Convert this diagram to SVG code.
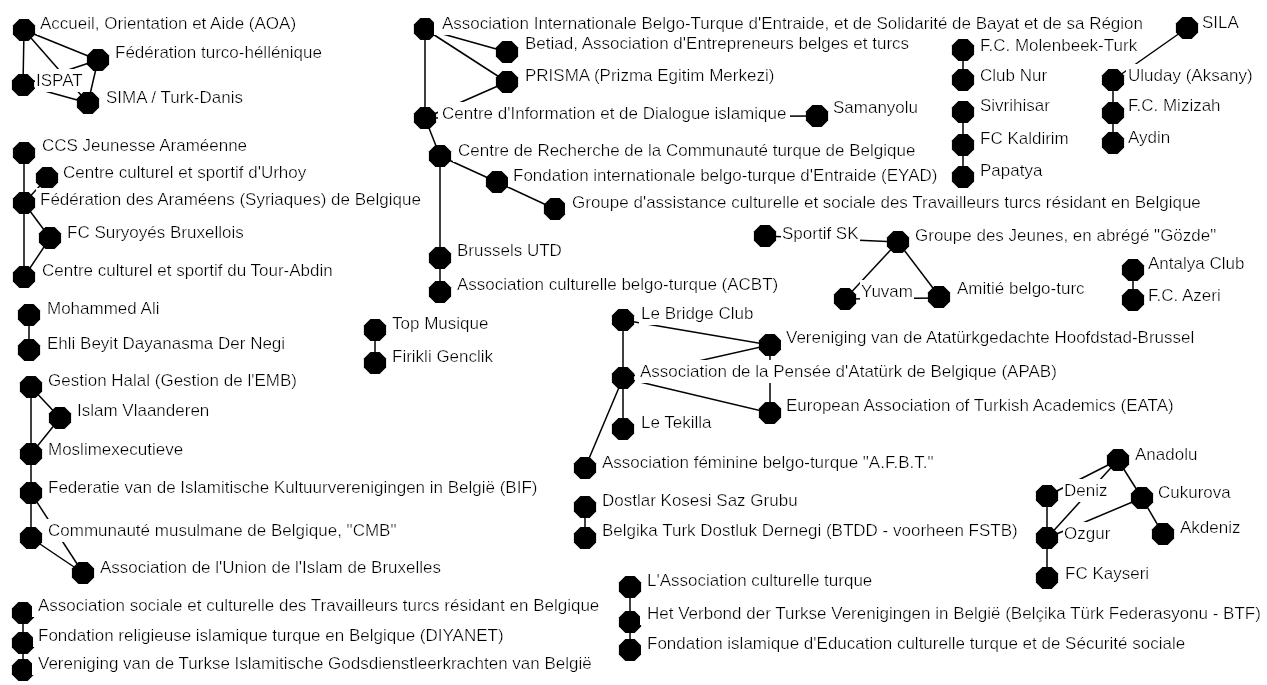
<svg xmlns="http://www.w3.org/2000/svg" xmlns:xlink="http://www.w3.org/1999/xlink" width="1267" height="685" viewBox="0 0 1267 685">
<style>
.lbl{font-family:"Liberation Sans",Arial,sans-serif;font-size:17px;fill:#000;filter:url(#bg)}
#edges line{stroke:#000;stroke-width:1.5}
.nd{fill:#000}
</style>
<defs>
<filter id="bg" x="-0.01" y="-0.06" width="1.02" height="1.12"><feFlood flood-color="#fff"/><feComposite in="SourceGraphic" operator="over"/></filter>
<polygon id="oct" points="-4.6,-11.1 4.6,-11.1 11.1,-4.6 11.1,4.6 4.6,11.1 -4.6,11.1 -11.1,4.6 -11.1,-4.6"/>
</defs>
<rect width="1267" height="685" fill="#fff"/>
<g id="edges">
<line x1="24" y1="30" x2="23" y2="85"/>
<line x1="24" y1="30" x2="98" y2="60"/>
<line x1="24" y1="30" x2="88" y2="103"/>
<line x1="23" y1="85" x2="88" y2="103"/>
<line x1="23" y1="85" x2="98" y2="60"/>
<line x1="98" y1="60" x2="88" y2="103"/>
<line x1="24" y1="153" x2="24" y2="203"/>
<line x1="47" y1="178" x2="24" y2="203"/>
<line x1="24" y1="203" x2="50" y2="238"/>
<line x1="50" y1="238" x2="24" y2="277"/>
<line x1="24" y1="203" x2="24" y2="277"/>
<line x1="29" y1="315" x2="29" y2="350"/>
<line x1="31" y1="387" x2="31" y2="454"/>
<line x1="31" y1="387" x2="60" y2="418"/>
<line x1="60" y1="418" x2="31" y2="454"/>
<line x1="31" y1="454" x2="31" y2="493"/>
<line x1="31" y1="493" x2="31" y2="538"/>
<line x1="31" y1="493" x2="83" y2="573"/>
<line x1="31" y1="538" x2="83" y2="573"/>
<line x1="23" y1="613" x2="23" y2="643"/>
<line x1="23" y1="643" x2="23" y2="670"/>
<line x1="425" y1="29" x2="507" y2="52"/>
<line x1="425" y1="29" x2="507" y2="82"/>
<line x1="425" y1="29" x2="425" y2="118"/>
<line x1="507" y1="82" x2="425" y2="118"/>
<line x1="425" y1="118" x2="817" y2="116"/>
<line x1="425" y1="118" x2="440" y2="156"/>
<line x1="440" y1="156" x2="497" y2="182"/>
<line x1="497" y1="182" x2="555" y2="209"/>
<line x1="440" y1="156" x2="440" y2="258"/>
<line x1="440" y1="258" x2="440" y2="292"/>
<line x1="375" y1="330" x2="375" y2="363"/>
<line x1="623" y1="320" x2="770" y2="345"/>
<line x1="623" y1="320" x2="623" y2="378"/>
<line x1="623" y1="378" x2="770" y2="345"/>
<line x1="623" y1="378" x2="770" y2="413"/>
<line x1="623" y1="378" x2="623" y2="429"/>
<line x1="623" y1="378" x2="585" y2="468"/>
<line x1="770" y1="345" x2="770" y2="413"/>
<line x1="585" y1="507" x2="585" y2="538"/>
<line x1="630" y1="587" x2="630" y2="622"/>
<line x1="630" y1="622" x2="630" y2="650"/>
<line x1="963" y1="50" x2="963" y2="80"/>
<line x1="963" y1="112" x2="963" y2="145"/>
<line x1="963" y1="145" x2="963" y2="177"/>
<line x1="1187" y1="28" x2="1113" y2="80"/>
<line x1="1113" y1="80" x2="1113" y2="113"/>
<line x1="1113" y1="113" x2="1113" y2="143"/>
<line x1="765" y1="236" x2="898" y2="242"/>
<line x1="898" y1="242" x2="845" y2="299"/>
<line x1="898" y1="242" x2="939" y2="296"/>
<line x1="845" y1="299" x2="939" y2="298"/>
<line x1="1133" y1="270" x2="1133" y2="300"/>
<line x1="1118" y1="460" x2="1047" y2="496"/>
<line x1="1118" y1="460" x2="1047" y2="538"/>
<line x1="1118" y1="460" x2="1142" y2="498"/>
<line x1="1142" y1="498" x2="1163" y2="534"/>
<line x1="1142" y1="498" x2="1047" y2="538"/>
<line x1="1047" y1="496" x2="1047" y2="538"/>
<line x1="1047" y1="538" x2="1047" y2="578"/>
</g>
<g id="n-aoa"><use href="#oct" class="nd" x="24" y="30"/><text class="lbl" x="40" y="29">Accueil, Orientation et Aide (AOA)</text></g>
<g id="n-fth"><use href="#oct" class="nd" x="98" y="60"/><text class="lbl" x="115" y="58">Fédération turco-héllénique</text></g>
<g id="n-ispat"><use href="#oct" class="nd" x="23" y="85"/><text class="lbl" x="36" y="86">ISPAT</text></g>
<g id="n-sima"><use href="#oct" class="nd" x="88" y="103"/><text class="lbl" x="106" y="103">SIMA / Turk-Danis</text></g>
<g id="n-ccs"><use href="#oct" class="nd" x="24" y="153"/><text class="lbl" x="42" y="151">CCS Jeunesse Araméenne</text></g>
<g id="n-urhoy"><use href="#oct" class="nd" x="47" y="178"/><text class="lbl" x="63" y="178">Centre culturel et sportif d'Urhoy</text></g>
<g id="n-fedar"><use href="#oct" class="nd" x="24" y="203"/><text class="lbl" x="40" y="205">Fédération des Araméens (Syriaques) de Belgique</text></g>
<g id="n-suryo"><use href="#oct" class="nd" x="50" y="238"/><text class="lbl" x="67" y="238">FC Suryoyés Bruxellois</text></g>
<g id="n-tour"><use href="#oct" class="nd" x="24" y="277"/><text class="lbl" x="42" y="276">Centre culturel et sportif du Tour-Abdin</text></g>
<g id="n-mali"><use href="#oct" class="nd" x="29" y="315"/><text class="lbl" x="47" y="314">Mohammed Ali</text></g>
<g id="n-ehli"><use href="#oct" class="nd" x="29" y="350"/><text class="lbl" x="47" y="349">Ehli Beyit Dayanasma Der Negi</text></g>
<g id="n-halal"><use href="#oct" class="nd" x="31" y="387"/><text class="lbl" x="48" y="386">Gestion Halal (Gestion de l'EMB)</text></g>
<g id="n-vlaand"><use href="#oct" class="nd" x="60" y="418"/><text class="lbl" x="77" y="416">Islam Vlaanderen</text></g>
<g id="n-moslim"><use href="#oct" class="nd" x="31" y="454"/><text class="lbl" x="48" y="455">Moslimexecutieve</text></g>
<g id="n-bif"><use href="#oct" class="nd" x="31" y="493"/><text class="lbl" x="48" y="493">Federatie van de Islamitische Kultuurverenigingen in België (BIF)</text></g>
<g id="n-cmb"><use href="#oct" class="nd" x="31" y="538"/><text class="lbl" x="48" y="536">Communauté musulmane de Belgique, "CMB"</text></g>
<g id="n-union"><use href="#oct" class="nd" x="83" y="573"/><text class="lbl" x="100" y="573">Association de l'Union de l'Islam de Bruxelles</text></g>
<g id="n-asct"><use href="#oct" class="nd" x="23" y="613"/><text class="lbl" x="38" y="611">Association sociale et culturelle des Travailleurs turcs résidant en Belgique</text></g>
<g id="n-diyanet"><use href="#oct" class="nd" x="23" y="643"/><text class="lbl" x="38" y="641">Fondation religieuse islamique turque en Belgique (DIYANET)</text></g>
<g id="n-vtig"><use href="#oct" class="nd" x="23" y="670"/><text class="lbl" x="38" y="669">Vereniging van de Turkse Islamitische Godsdienstleerkrachten van België</text></g>
<g id="n-aibt"><use href="#oct" class="nd" x="425" y="29"/><text class="lbl" x="442" y="29">Association Internationale Belgo-Turque d'Entraide, et de Solidarité de Bayat et de sa Région</text></g>
<g id="n-betiad"><use href="#oct" class="nd" x="507" y="52"/><text class="lbl" x="525" y="49">Betiad, Association d'Entrepreneurs belges et turcs</text></g>
<g id="n-prisma"><use href="#oct" class="nd" x="507" y="82"/><text class="lbl" x="525" y="81">PRISMA (Prizma Egitim Merkezi)</text></g>
<g id="n-cidi"><use href="#oct" class="nd" x="425" y="118"/><text class="lbl" x="442" y="119">Centre d'Information et de Dialogue islamique</text></g>
<g id="n-saman"><use href="#oct" class="nd" x="817" y="116"/><text class="lbl" x="833" y="113">Samanyolu</text></g>
<g id="n-rech"><use href="#oct" class="nd" x="440" y="156"/><text class="lbl" x="458" y="156">Centre de Recherche de la Communauté turque de Belgique</text></g>
<g id="n-eyad"><use href="#oct" class="nd" x="497" y="182"/><text class="lbl" x="513" y="181">Fondation internationale belgo-turque d'Entraide (EYAD)</text></g>
<g id="n-gact"><use href="#oct" class="nd" x="555" y="209"/><text class="lbl" x="572" y="208">Groupe d'assistance culturelle et sociale des Travailleurs turcs résidant en Belgique</text></g>
<g id="n-butd"><use href="#oct" class="nd" x="440" y="258"/><text class="lbl" x="457" y="256">Brussels UTD</text></g>
<g id="n-acbt"><use href="#oct" class="nd" x="440" y="292"/><text class="lbl" x="457" y="290">Association culturelle belgo-turque (ACBT)</text></g>
<g id="n-topm"><use href="#oct" class="nd" x="375" y="330"/><text class="lbl" x="392" y="329">Top Musique</text></g>
<g id="n-firikli"><use href="#oct" class="nd" x="375" y="363"/><text class="lbl" x="392" y="362">Firikli Genclik</text></g>
<g id="n-bridge"><use href="#oct" class="nd" x="623" y="320"/><text class="lbl" x="641" y="319">Le Bridge Club</text></g>
<g id="n-vahb"><use href="#oct" class="nd" x="770" y="345"/><text class="lbl" x="786" y="343">Vereniging van de Atatürkgedachte Hoofdstad-Brussel</text></g>
<g id="n-apab"><use href="#oct" class="nd" x="623" y="378"/><text class="lbl" x="640" y="377">Association de la Pensée d'Atatürk de Belgique (APAB)</text></g>
<g id="n-eata"><use href="#oct" class="nd" x="770" y="413"/><text class="lbl" x="786" y="411">European Association of Turkish Academics (EATA)</text></g>
<g id="n-tekilla"><use href="#oct" class="nd" x="623" y="429"/><text class="lbl" x="641" y="428">Le Tekilla</text></g>
<g id="n-afbt"><use href="#oct" class="nd" x="585" y="468"/><text class="lbl" x="602" y="468">Association féminine belgo-turque "A.F.B.T."</text></g>
<g id="n-dostlar"><use href="#oct" class="nd" x="585" y="507"/><text class="lbl" x="602" y="506">Dostlar Kosesi Saz Grubu</text></g>
<g id="n-belgika"><use href="#oct" class="nd" x="585" y="538"/><text class="lbl" x="602" y="536">Belgika Turk Dostluk Dernegi (BTDD - voorheen FSTB)</text></g>
<g id="n-lact"><use href="#oct" class="nd" x="630" y="587"/><text class="lbl" x="647" y="586">L'Association culturelle turque</text></g>
<g id="n-btf"><use href="#oct" class="nd" x="630" y="622"/><text class="lbl" x="647" y="619">Het Verbond der Turkse Verenigingen in België (Belçika Türk Federasyonu - BTF)</text></g>
<g id="n-fieds"><use href="#oct" class="nd" x="630" y="650"/><text class="lbl" x="647" y="649">Fondation islamique d'Education culturelle turque et de Sécurité sociale</text></g>
<g id="n-molen"><use href="#oct" class="nd" x="963" y="50"/><text class="lbl" x="980" y="51">F.C. Molenbeek-Turk</text></g>
<g id="n-clubnur"><use href="#oct" class="nd" x="963" y="80"/><text class="lbl" x="980" y="81">Club Nur</text></g>
<g id="n-sivri"><use href="#oct" class="nd" x="963" y="112"/><text class="lbl" x="980" y="111">Sivrihisar</text></g>
<g id="n-kaldirim"><use href="#oct" class="nd" x="963" y="145"/><text class="lbl" x="980" y="144">FC Kaldirim</text></g>
<g id="n-papatya"><use href="#oct" class="nd" x="963" y="177"/><text class="lbl" x="980" y="176">Papatya</text></g>
<g id="n-sila"><use href="#oct" class="nd" x="1187" y="28"/><text class="lbl" x="1202" y="28">SILA</text></g>
<g id="n-uluday"><use href="#oct" class="nd" x="1113" y="80"/><text class="lbl" x="1128" y="81">Uluday (Aksany)</text></g>
<g id="n-mizizah"><use href="#oct" class="nd" x="1113" y="113"/><text class="lbl" x="1128" y="111">F.C. Mizizah</text></g>
<g id="n-aydin"><use href="#oct" class="nd" x="1113" y="143"/><text class="lbl" x="1128" y="143">Aydin</text></g>
<g id="n-sportif"><use href="#oct" class="nd" x="765" y="236"/><text class="lbl" x="782" y="239">Sportif SK</text></g>
<g id="n-gozde"><use href="#oct" class="nd" x="898" y="242"/><text class="lbl" x="915" y="241">Groupe des Jeunes, en abrégé "Gözde"</text></g>
<g id="n-yuvam"><use href="#oct" class="nd" x="845" y="299"/><text class="lbl" x="861" y="297">Yuvam</text></g>
<g id="n-amitie"><use href="#oct" class="nd" x="939" y="297"/><text class="lbl" x="957" y="294">Amitié belgo-turc</text></g>
<g id="n-antalya"><use href="#oct" class="nd" x="1133" y="270"/><text class="lbl" x="1148" y="269">Antalya Club</text></g>
<g id="n-azeri"><use href="#oct" class="nd" x="1133" y="300"/><text class="lbl" x="1148" y="301">F.C. Azeri</text></g>
<g id="n-anadolu"><use href="#oct" class="nd" x="1118" y="460"/><text class="lbl" x="1135" y="460">Anadolu</text></g>
<g id="n-deniz"><use href="#oct" class="nd" x="1047" y="496"/><text class="lbl" x="1064" y="496">Deniz</text></g>
<g id="n-cukurova"><use href="#oct" class="nd" x="1142" y="498"/><text class="lbl" x="1158" y="498">Cukurova</text></g>
<g id="n-ozgur"><use href="#oct" class="nd" x="1047" y="538"/><text class="lbl" x="1064" y="539">Ozgur</text></g>
<g id="n-akdeniz"><use href="#oct" class="nd" x="1163" y="534"/><text class="lbl" x="1180" y="533">Akdeniz</text></g>
<g id="n-kayseri"><use href="#oct" class="nd" x="1047" y="578"/><text class="lbl" x="1065" y="579">FC Kayseri</text></g>
</svg>
